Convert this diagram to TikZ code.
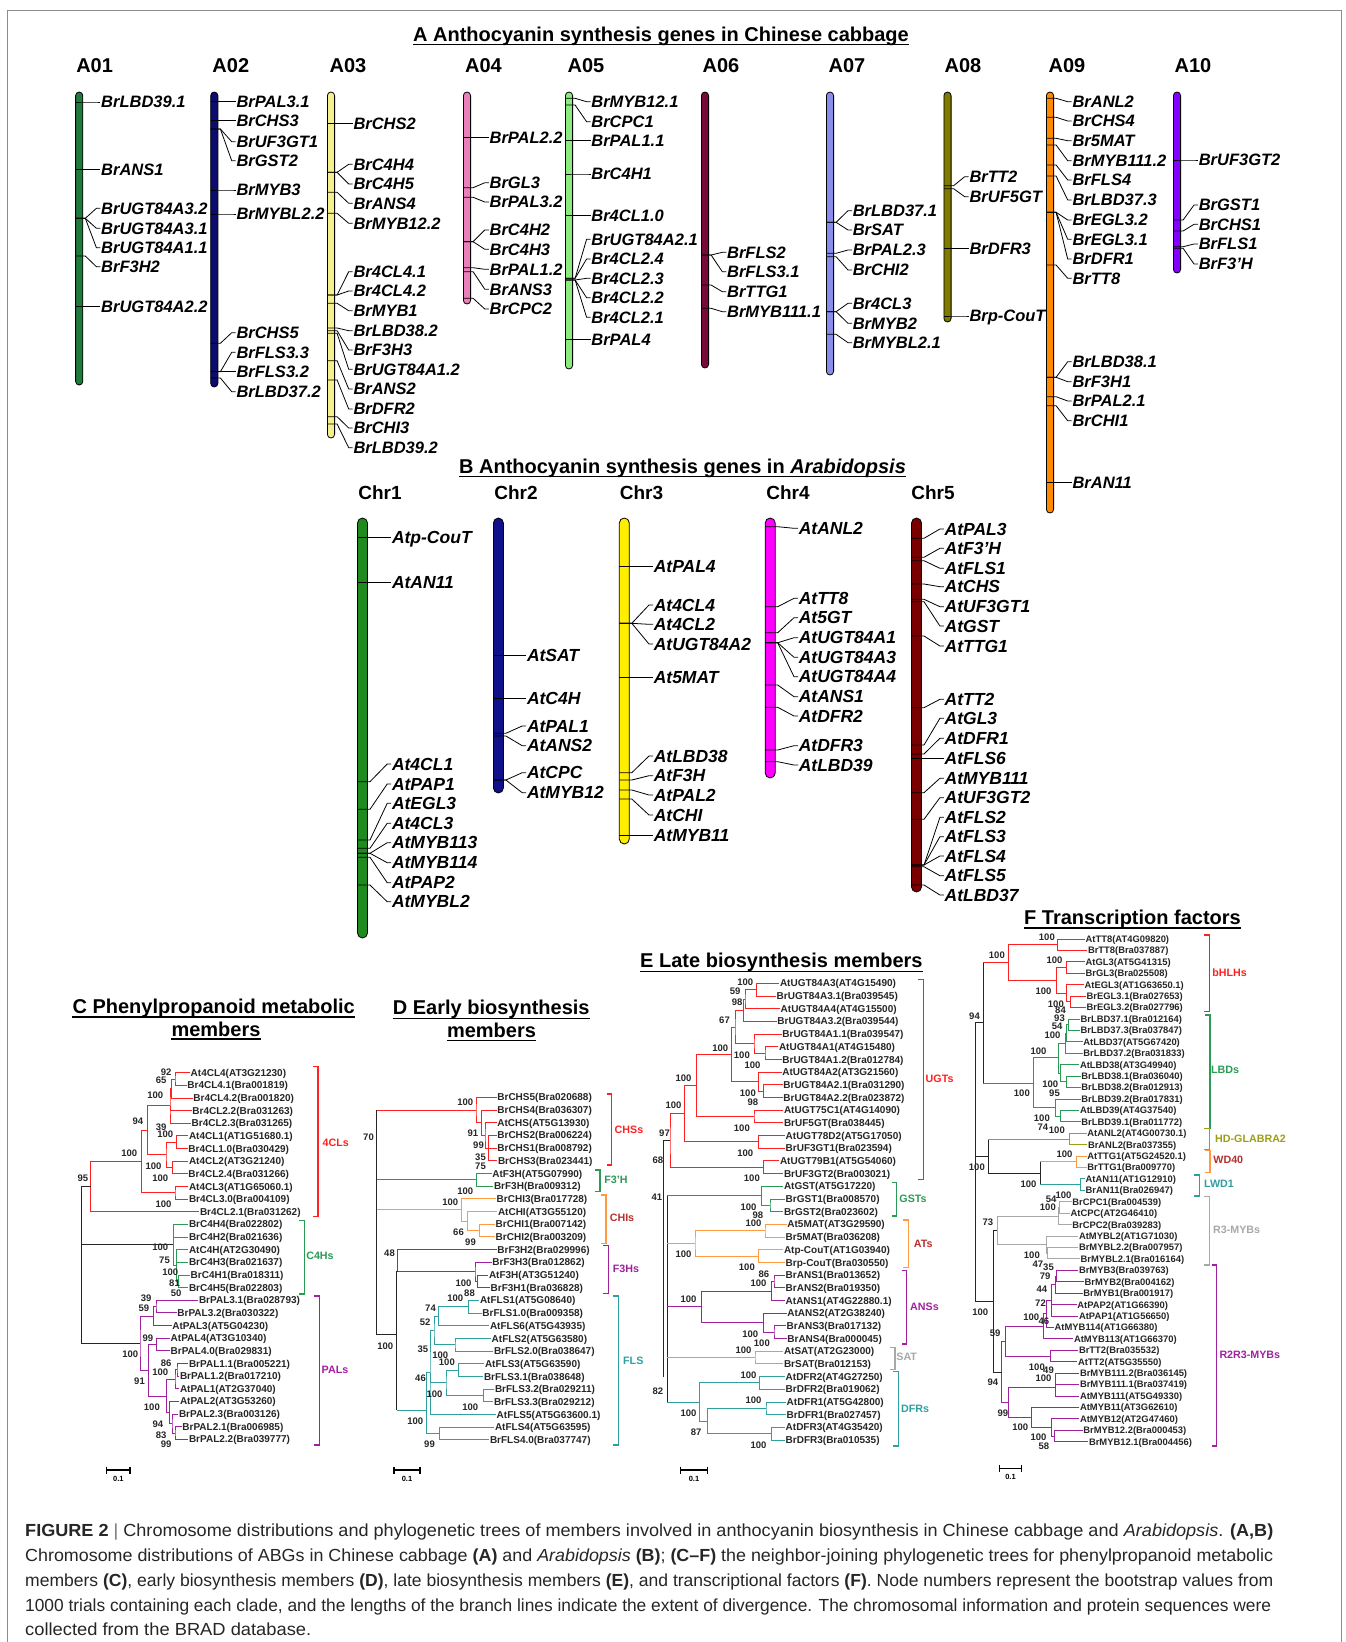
\documentclass[tikz,border=0pt]{standalone}
\usepackage{fontspec}
\setmainfont{Liberation Sans}
\usepackage{graphicx}
\definecolor{cA01}{HTML}{1E7B3C}\definecolor{cA02}{HTML}{0B0B70}\definecolor{cA03}{HTML}{F6F08C}
\definecolor{cA04}{HTML}{EC7FBA}\definecolor{cA05}{HTML}{8CEB7F}\definecolor{cA06}{HTML}{780A3A}
\definecolor{cA07}{HTML}{8A8CEB}\definecolor{cA08}{HTML}{7F7A00}\definecolor{cA09}{HTML}{FF8A00}
\definecolor{cA10}{HTML}{8400FF}
\definecolor{cB1}{HTML}{1F8B1F}\definecolor{cB2}{HTML}{10108A}\definecolor{cB3}{HTML}{FFEE00}
\definecolor{cB4}{HTML}{FF00FF}\definecolor{cB5}{HTML}{7A0000}
\definecolor{tred}{HTML}{FF2020}\definecolor{tgreen}{HTML}{2B9A55}\definecolor{tpurple}{HTML}{A0209F}
\definecolor{torange}{HTML}{FF9A40}\definecolor{tteal}{HTML}{2FA0A0}\definecolor{tgray}{HTML}{A8A8A8}
\definecolor{tolive}{HTML}{9E9E14}\definecolor{tdred}{HTML}{B5302F}
\newcounter{gn}
\newcommand\gx[3]{\stepcounter{gn}%
 \node[gene] (g\thegn) at (\chL,#2) {#3};%
 \draw[gl] (\chC-\hw,#1) -- (\chC+\hw+2.5,#1) -- ([xshift=-4pt]g\thegn.west) -- (g\thegn.west);}
\newcommand\chbar[5]{\draw[bar,fill=#1,rounded corners=#5pt] (#2-#5,#3) rectangle (#2+#5,#4);}
\newcommand\brk[4]{\draw[#1,line width=1.1pt] (#2-5,#3) -- (#2,#3) -- (#2,#4) -- (#2-5,#4);}
\newcommand\cY[1]{1072.7+12.64*(#1-1)}
\newcommand\dY[1]{1097.3+12.69*(#1-1)}
\newcommand\eY[1]{983.3+12.686*(#1-1)}
\newcommand\fY[1]{939+11.425*(#1-1)}
\tikzset{
 gl/.style={draw=black,line width=0.8pt},
 gA/.style={font=\fontsize{16.5}{18}\selectfont\bfseries\itshape,anchor=west,inner sep=0.6pt,text height=11.8pt,text depth=0pt},
 gB/.style={font=\fontsize{17.5}{19}\selectfont\bfseries\itshape,anchor=west,inner sep=0.6pt,text height=12.5pt,text depth=0pt},
 hdr/.style={font=\fontsize{20}{22}\selectfont\bfseries,anchor=base,inner sep=0pt},
 ttl/.style={font=\fontsize{20}{22}\selectfont\bfseries,anchor=base,inner sep=0pt},
 lf/.style={font=\fontsize{10}{11}\selectfont\bfseries,anchor=west,inner sep=0.5pt,text height=7.2pt,text depth=0pt,text=black!85},
 lff/.style={font=\fontsize{9.4}{10}\selectfont\bfseries,anchor=west,inner sep=0.5pt,text height=6.8pt,text depth=0pt,text=black!85},
 bs/.style={font=\fontsize{9.5}{10}\selectfont\bfseries,anchor=east,inner sep=0pt,text height=6.8pt,text depth=0pt,text=black!85},
 cl/.style={font=\fontsize{10.7}{12}\selectfont\bfseries,inner sep=0pt,text height=7.7pt,text depth=0pt},
 tK/.style={draw=black!85,line width=0.9pt},
 tR/.style={draw=tred,line width=0.9pt},
 tG/.style={draw=tgreen,line width=0.9pt},
 tP/.style={draw=tpurple,line width=0.9pt},
 tO/.style={draw=torange,line width=0.9pt},
 tT/.style={draw=tteal,line width=0.9pt},
 tS/.style={draw=tgray,line width=0.9pt},
 tY/.style={draw=tolive,line width=0.9pt},
 bar/.style={draw=black,line width=0.8pt},
 sbar/.style={draw=black,line width=1.1pt},
 capt/.style={font=\fontsize{17.5}{19}\selectfont,anchor=base west,inner sep=0pt,text=black!85},
}
\begin{document}
\begin{tikzpicture}[x=1pt,y=-1pt]
\useasboundingbox (0,0) rectangle (1346,1642);
\fill[white] (0,0) rectangle (1346,1642);
\draw[black!45,line width=1pt] (7,1660) -- (7,10) -- (1341,10) -- (1341,1660);
% ---------------- Titles
\node[ttl] (tA) at (661,41.5) {A Anthocyanin synthesis genes in Chinese cabbage};
\draw[line width=1.3pt] ([yshift=-3pt]tA.base west) -- ([yshift=-3pt]tA.base east);
\node[ttl] (tB) at (682.5,473) {B Anthocyanin synthesis genes in \textit{Arabidopsis}};
\draw[line width=1.3pt] ([yshift=-3.5pt]tB.base west) -- ([yshift=-3.5pt]tB.base east);
\node[ttl] (tC1) at (213.7,1013) {C Phenylpropanoid metabolic};
\draw[line width=1.3pt] ([yshift=-4pt]tC1.base west) -- ([yshift=-4pt]tC1.base east);
\node[ttl] (tC2) at (216,1036) {members};
\draw[line width=1.3pt] ([yshift=-3pt]tC2.base west) -- ([yshift=-3pt]tC2.base east);
\node[ttl] (tD1) at (491.2,1014.5) {D Early biosynthesis};
\draw[line width=1.3pt] ([yshift=-4pt]tD1.base west) -- ([yshift=-4pt]tD1.base east);
\node[ttl] (tD2) at (491.5,1037.5) {members};
\draw[line width=1.3pt] ([yshift=-3pt]tD2.base west) -- ([yshift=-3pt]tD2.base east);
\node[ttl] (tE) at (781.4,967.5) {E Late biosynthesis members};
\draw[line width=1.3pt] ([yshift=-4pt]tE.base west) -- ([yshift=-4pt]tE.base east);
\node[ttl] (tF) at (1132.5,924) {F Transcription factors};
\draw[line width=1.3pt] ([yshift=-4pt]tF.base west) -- ([yshift=-4pt]tF.base east);
% ---------------- Section A headers
\foreach \x/\t in {94.6/A01,230.8/A02,348/A03,483.5/A04,586/A05,721/A06,847/A07,963/A08,1067/A09,1193/A10}
  \node[hdr] (h\t) at (\x,72.7) {\t};
\foreach \x/\t in {380/Chr1,516/Chr2,641.5/Chr3,788/Chr4,933/Chr5}
  \node[hdr,font=\fontsize{19}{21}\selectfont\bfseries] (h\t) at (\x,499.5) {\t};
% ---------------- Section A bars
\chbar{cA01}{79.2}{92}{385}{3.6}
\chbar{cA02}{214.3}{92}{387}{3.6}
\chbar{cA03}{331}{92}{438}{3.6}
\chbar{cA04}{467}{92}{304}{3.6}
\chbar{cA05}{569}{92}{369}{3.6}
\chbar{cA06}{705}{92}{368}{3.6}
\chbar{cA07}{830}{92}{375}{3.6}
\chbar{cA08}{947.5}{92}{322}{3.6}
\chbar{cA09}{1050}{92}{513}{3.6}
\chbar{cA10}{1177}{92}{273}{3.6}
\tikzset{gene/.style={gA}}
\def\hw{3.6}
\def\chC{79.2}\def\chL{100.4}
\gx{102}{102}{BrLBD39.1}
\gx{169.3}{169.3}{BrANS1}
\gx{218.3}{208.3}{BrUGT84A3.2}
\gx{218.3}{228.3}{BrUGT84A3.1}
\gx{218.3}{247.7}{BrUGT84A1.1}
\gx{256}{266.7}{BrF3H2}
\gx{306.7}{306.7}{BrUGT84A2.2}
\def\chC{214.3}\def\chL{235.7}
\gx{101.7}{101.7}{BrPAL3.1}
\gx{120.7}{120.7}{BrCHS3}
\gx{129}{141.7}{BrUF3GT1}
\gx{129}{160.7}{BrGST2}
\gx{190}{190}{BrMYB3}
\gx{214}{214}{BrMYBL2.2}
\gx{343.3}{332.7}{BrCHS5}
\gx{371.7}{352.3}{BrFLS3.3}
\gx{371.7}{371.7}{BrFLS3.2}
\gx{378}{391.7}{BrLBD37.2}
\def\chC{331}\def\chL{352.7}
\gx{123.3}{123.3}{BrCHS2}
\gx{172.3}{164.3}{BrC4H4}
\gx{172.3}{184}{BrC4H5}
\gx{192.3}{203.3}{BrANS4}
\gx{213.3}{223.3}{BrMYB12.2}
\gx{295}{271.7}{Br4CL4.1}
\gx{295}{291}{Br4CL4.2}
\gx{303.3}{310.7}{BrMYB1}
\gx{328}{330.7}{BrLBD38.2}
\gx{330.7}{350}{BrF3H3}
\gx{333.3}{369.3}{BrUGT84A1.2}
\gx{360.7}{389}{BrANS2}
\gx{380}{409}{BrDFR2}
\gx{416.7}{428}{BrCHI3}
\gx{424}{447.7}{BrLBD39.2}
\def\chC{467}\def\chL{488.8}
\gx{137.3}{137.3}{BrPAL2.2}
\gx{187.7}{182.7}{BrGL3}
\gx{197.3}{202}{BrPAL3.2}
\gx{241.7}{230}{BrC4H2}
\gx{241.7}{249.3}{BrC4H3}
\gx{267.7}{269.3}{BrPAL1.2}
\gx{271.7}{289.3}{BrANS3}
\gx{298.3}{309}{BrCPC2}
\def\chC{569}\def\chL{590.6}
\gx{98.3}{101.7}{BrMYB12.1}
\gx{105}{121.7}{BrCPC1}
\gx{140.7}{140.7}{BrPAL1.1}
\gx{174}{174}{BrC4H1}
\gx{215.7}{215.7}{Br4CL1.0}
\gx{278.3}{239.3}{BrUGT84A2.1}
\gx{278.3}{259}{Br4CL2.4}
\gx{280}{278.3}{Br4CL2.3}
\gx{280}{297.7}{Br4CL2.2}
\gx{280}{317.3}{Br4CL2.1}
\gx{339.3}{339.3}{BrPAL4}
\def\chC{705}\def\chL{726.3}
\gx{255}{252.3}{BrFLS2}
\gx{255}{271.7}{BrFLS3.1}
\gx{285}{291.7}{BrTTG1}
\gx{308.3}{311.7}{BrMYB111.1}
\def\chC{830}\def\chL{852}
\gx{222.3}{210.7}{BrLBD37.1}
\gx{222.3}{230}{BrSAT}
\gx{253.3}{250}{BrPAL2.3}
\gx{256.7}{270}{BrCHI2}
\gx{311.7}{303.3}{Br4CL3}
\gx{311.7}{323.3}{BrMYB2}
\gx{334.3}{342.7}{BrMYBL2.1}
\def\chC{947.5}\def\chL{968.7}
\gx{185.7}{176.7}{BrTT2}
\gx{188.7}{196.7}{BrUF5GT}
\gx{248.3}{248.3}{BrDFR3}
\gx{316}{316}{Brp-CouT}
\def\chC{1050}\def\chL{1071.7}
\gx{98.3}{101.7}{BrANL2}
\gx{117.3}{121}{BrCHS4}
\gx{138.3}{140.7}{Br5MAT}
\gx{145}{160.7}{BrMYB111.2}
\gx{165}{180}{BrFLS4}
\gx{176}{200}{BrLBD37.3}
\gx{212.3}{220}{BrEGL3.2}
\gx{212.3}{239.3}{BrEGL3.1}
\gx{212.3}{259}{BrDFR1}
\gx{265}{278.3}{BrTT8}
\gx{377.3}{361.7}{BrLBD38.1}
\gx{377.3}{381.7}{BrF3H1}
\gx{396.7}{401}{BrPAL2.1}
\gx{405.7}{420.7}{BrCHI1}
\gx{482.3}{482.3}{BrAN11}
\def\chC{1177}\def\chL{1198}
\gx{160}{160}{BrUF3GT2}
\gx{220}{205}{BrGST1}
\gx{231}{224.3}{BrCHS1}
\gx{246.7}{244}{BrFLS1}
\gx{248.3}{264}{BrF3'H}
% ---------------- Section B
\chbar{cB1}{362.5}{518}{938}{5}
\chbar{cB2}{498.4}{518}{793}{5}
\chbar{cB3}{624.3}{518}{844}{5}
\chbar{cB4}{770.2}{518}{778}{5}
\chbar{cB5}{916.5}{518}{892}{5}
\tikzset{gene/.style={gB}}
\def\hw{5}
\def\chC{362.5}\def\chL{391.2}
\gx{537.3}{537.3}{Atp-CouT}
\gx{582.7}{582.7}{AtAN11}
\gx{781.7}{764}{At4CL1}
\gx{809.3}{784}{AtPAP1}
\gx{840}{803.3}{AtEGL3}
\gx{848.3}{823.3}{At4CL3}
\gx{853.3}{842.7}{AtMYB113}
\gx{853.3}{862.7}{AtMYB114}
\gx{857.3}{882.7}{AtPAP2}
\gx{885}{901.7}{AtMYBL2}
\def\chC{498.4}\def\chL{526.2}
\gx{655}{655}{AtSAT}
\gx{698.3}{698.3}{AtC4H}
\gx{733.3}{726}{AtPAL1}
\gx{736}{745.7}{AtANS2}
\gx{780}{772.7}{AtCPC}
\gx{780}{792.7}{AtMYB12}
\def\chC{624.3}\def\chL{653}
\gx{566.7}{566.7}{AtPAL4}
\gx{623.3}{605}{At4CL4}
\gx{623.3}{624.3}{At4CL2}
\gx{623.3}{644}{AtUGT84A2}
\gx{677.3}{677.3}{At5MAT}
\gx{772.7}{756}{AtLBD38}
\gx{780}{775.7}{AtF3H}
\gx{790}{795}{AtPAL2}
\gx{799}{815}{AtCHI}
\gx{835.7}{835.7}{AtMYB11}
\def\chC{770.2}\def\chL{798}
\gx{526.7}{528.3}{AtANL2}
\gx{606.7}{598.3}{AtTT8}
\gx{632.7}{617.7}{At5GT}
\gx{642.7}{637.7}{AtUGT84A1}
\gx{642.7}{657.3}{AtUGT84A3}
\gx{642.7}{676.7}{AtUGT84A4}
\gx{685}{696.7}{AtANS1}
\gx{707.3}{716}{AtDFR2}
\gx{750}{745.7}{AtDFR3}
\gx{761.7}{765}{AtLBD39}
\def\chC{916.5}\def\chL{943.9}
\gx{538.3}{529}{AtPAL3}
\gx{557.3}{548.3}{AtF3'H}
\gx{560.7}{568.3}{AtFLS1}
\gx{584}{586.7}{AtCHS}
\gx{599.3}{606.7}{AtUF3GT1}
\gx{601.7}{626}{AtGST}
\gx{636}{646}{AtTTG1}
\gx{707.7}{699.3}{AtTT2}
\gx{745}{718.3}{AtGL3}
\gx{754}{738.3}{AtDFR1}
\gx{758.3}{758.3}{AtFLS6}
\gx{792.7}{778.3}{AtMYB111}
\gx{819.3}{797.7}{AtUF3GT2}
\gx{865}{817.3}{AtFLS2}
\gx{865}{836.7}{AtFLS3}
\gx{865}{856}{AtFLS4}
\gx{866.7}{875.7}{AtFLS5}
\gx{885}{895}{AtLBD37}
% ================= Tree C
\foreach \i/\x/\t in {1/190/At4CL4(AT3G21230),2/186.7/Br4CL4.1(Bra001819),3/192.7/Br4CL4.2(Bra001820),
 4/191.7/Br4CL2.2(Bra031263),5/191/Br4CL2.3(Bra031265),6/188.3/At4CL1(AT1G51680.1),7/187.7/Br4CL1.0(Bra030429),
 8/188.3/At4CL2(AT3G21240),9/187.7/Br4CL2.4(Bra031266),10/188.3/At4CL3(AT1G65060.1),11/188.3/Br4CL3.0(Bra004109),
 12/199.3/Br4CL2.1(Bra031262),13/188.3/BrC4H4(Bra022802),14/188.3/BrC4H2(Bra021636),15/188.3/AtC4H(AT2G30490),
 16/188.3/BrC4H3(Bra021637),17/190/BrC4H1(Bra018311),18/188.3/BrC4H5(Bra022803),19/198.3/BrPAL3.1(Bra028793),
 20/176.7/BrPAL3.2(Bra030322),21/171.7/AtPAL3(AT5G04230),22/170/AtPAL4(AT3G10340),23/170/BrPAL4.0(Bra029831),
 24/188.3/BrPAL1.1(Bra005221),25/179.3/BrPAL1.2(Bra017210),26/179.3/AtPAL1(AT2G37040),27/179.3/AtPAL2(AT3G53260),
 28/178.3/BrPAL2.3(Bra003126),29/181.7/BrPAL2.1(Bra006985),30/188.3/BrPAL2.2(Bra039777)}
 \node[lf] (C\i) at (\x,{\cY{\i}}) {\t};
\coordinate (cN1) at (175,{\cY{1.5}});
\coordinate (cN2) at (171.7,{\cY{2.25}});
\coordinate (cN3) at (170,{\cY{3.6}});
\coordinate (cN4) at (176.7,{\cY{6.5}});
\coordinate (cN6) at (172.7,{\cY{8.5}});
\coordinate (cN5) at (166,{\cY{7.5}});
\coordinate (cN7) at (147.3,{\cY{5.55}});
\coordinate (cN8) at (175,{\cY{10.5}});
\coordinate (cN9) at (141.7,{\cY{8}});
\coordinate (cN10) at (90.7,{\cY{10}});
\draw[tR] (C1.west) -| (cN1) |- (C2.west);
\draw[tR] (cN1) -| (cN2) |- (C3.west);
\draw[tR] (cN2) -| (cN3) |- (C5.west); \draw[tR] (cN3) |- (C4.west);
\draw[tR] (C6.west) -| (cN4) |- (C7.west);
\draw[tR] (C8.west) -| (cN6) |- (C9.west);
\draw[tR] (cN4) -| (cN5) |- (cN6);
\draw[tR] (cN3) -| (cN7) |- (cN5);
\draw[tR] (C10.west) -| (cN8) |- (C11.west);
\draw[tR] (cN7) -| (cN9) |- (cN8);
\draw[tR] (cN9) -| (cN10) |- (C12.west);
\coordinate (cG3) at (178.3,{\cY{17.5}});
\coordinate (cG2) at (176.7,{\cY{16.25}});
\coordinate (cG1) at (173.3,{\cY{14.6}});
\draw[tG] (C17.west) -| (cG3) |- (C18.west);
\draw[tG] (C15.west) -| (cG2) |- (cG3); \draw[tG] (cG2) |- (C16.west);
\draw[tG] (C13.west) -| (cG1) |- (cG2); \draw[tG] (cG1) |- (C14.west);
\coordinate (cP1a) at (156,{\cY{19.5}});
\coordinate (cP1) at (153.3,{\cY{20.25}});
\coordinate (cP3) at (156.7,{\cY{22.5}});
\coordinate (cP5a) at (177,{\cY{24.5}});
\coordinate (cP5) at (175,{\cY{25.25}});
\coordinate (cP6a) at (175,{\cY{29.5}});
\coordinate (cP6b) at (172,{\cY{28.75}});
\coordinate (cP6) at (169.3,{\cY{27.9}});
\coordinate (cP4) at (166.7,{\cY{26.6}});
\coordinate (cP2) at (148.3,{\cY{24.55}});
\coordinate (cP0) at (140,{\cY{22.4}});
\draw[tP] (C19.west) -| (cP1a) |- (C20.west);
\draw[tP] (cP1a) -| (cP1) |- (C21.west);
\draw[tP] (C22.west) -| (cP3) |- (C23.west);
\draw[tP] (C24.west) -| (cP5a) |- (C25.west);
\draw[tP] (cP5a) -| (cP5) |- (C26.west);
\draw[tP] (C29.west) -| (cP6a) |- (C30.west);
\draw[tP] (C28.west) -| (cP6b) |- (cP6a);
\draw[tP] (C27.west) -| (cP6) |- (cP6b);
\draw[tP] (cP5) -| (cP4) |- (cP6);
\draw[tP] (cP3) -| (cP2) |- (cP4);
\draw[tP] (cP1) -| (cP0) |- (cP2);
\coordinate (cR) at (81.7,{\cY{16}});
\draw[tK] (cN10) -| (cR) |- (cP0); \draw[tK] (cR) |- (cG1);
\foreach \x/\y/\t [count=\n] in {171.7/1072/92,166.7/1080.3/65,163.3/1095/100,143.3/1121/94,166.7/1126.7/39,173.3/1134/100,
 137.3/1152.7/100,161.7/1166/100,168.3/1178.3/100,88.3/1178.3/95,171.7/1204/100,168.3/1247.3/100,170/1260/75,
 178.3/1272.3/100,180/1283.3/81,181.7/1292.7/50,151.7/1298.3/39,149.3/1308.3/59,153.3/1337.7/99,138.3/1354/100,
 171.7/1362.7/86,168.3/1372.3/100,145/1381/91,160/1407/100,163.3/1424.3/94,166.7/1435/83,171.7/1444/99}
 \node[bs] (bC\n) at (\x,\y) {\t};
\brk{draw=tred}{318}{1066.7}{1216.7}
\node[cl,text=tred] (kC1) at (335.7,1142.3) {4CLs};
\brk{draw=tgreen}{304.3}{1220.7}{1294}
\node[cl,text=tgreen] (kC2) at (320,1255.7) {C4Hs};
\brk{draw=tpurple}{319.3}{1296}{1445}
\node[cl,text=tpurple] (kC3) at (335,1369.3) {PALs};
% ================= Tree D
\foreach \i/\x/\t in {1/496.7/BrCHS5(Bra020688),2/496.7/BrCHS4(Bra036307),3/496.7/AtCHS(AT5G13930),
 4/496.7/BrCHS2(Bra006224),5/496.7/BrCHS1(Bra008792),6/497.3/BrCHS3(Bra023441),7/491.7/AtF3H(AT5G07990),
 8/493.3/BrF3H(Bra009312),9/496/BrCHI3(Bra017728),10/497.3/AtCHI(AT3G55120),11/495/BrCHI1(Bra007142),
 12/495/BrCHI2(Bra003209),13/496.7/BrF3H2(Bra029996),14/491.7/BrF3H3(Bra012862),15/488.3/AtF3H(AT3G51240),
 16/490/BrF3H1(Bra036828),17/479.3/AtFLS1(AT5G08640),18/481.7/BrFLS1.0(Bra009358),19/489.3/AtFLS6(AT5G43935),
 20/491/AtFLS2(AT5G63580),21/493.3/BrFLS2.0(Bra038647),22/484.3/AtFLS3(AT5G63590),23/483.3/BrFLS3.1(Bra038648),
 24/494.3/BrFLS3.2(Bra029211),25/493.3/BrFLS3.3(Bra029212),26/496/AtFLS5(AT5G63600.1),27/494.3/AtFLS4(AT5G63595),
 28/489.3/BrFLS4.0(Bra037747)}
 \node[lf] (D\i) at (\x,{\dY{\i}}) {\t};
\coordinate (dC4) at (488.3,{\dY{5}});
\coordinate (dC3) at (485,{\dY{4}});
\coordinate (dC2) at (481.7,{\dY{3}});
\coordinate (dC1) at (476,{\dY{2}});
\draw[tR] (D4.west) -| (dC4) |- (D6.west); \draw[tR] (dC4) -- (D5.west);
\draw[tR] (D3.west) -| (dC3) |- (dC4);
\draw[tR] (D2.west) -| (dC2) |- (dC3);
\draw[tR] (D1.west) -| (dC1) |- (dC2);
\coordinate (dG) at (476.7,{\dY{7.5}});
\draw[tG] (D7.west) -| (dG) |- (D8.west);
\coordinate (dH3) at (479.3,{\dY{11.5}});
\coordinate (dH2) at (467.3,{\dY{10.75}});
\coordinate (dH1) at (461.7,{\dY{9.875}});
\draw[tO] (D11.west) -| (dH3) |- (D12.west);
\draw[tO] (D10.west) -| (dH2) |- (dH3);
\draw[tO] (D9.west) -| (dH1) |- (dH2);
\coordinate (dF3) at (477.3,{\dY{15.5}});
\coordinate (dF2) at (475,{\dY{14.75}});
\coordinate (dF1) at (397.3,{\dY{14.75}});
\draw[tP] (D15.west) -| (dF3) |- (D16.west);
\draw[tP] (D14.west) -| (dF2) |- (dF3);
\draw[tP] (D13.west) -| (dF1) -- (dF2);
\coordinate (dT1) at (468.3,{\dY{17.5}});
\coordinate (dT2) at (438.3,{\dY{18.25}});
\coordinate (dT3) at (455,{\dY{20.5}});
\coordinate (dT4) at (434,{\dY{19.375}});
\coordinate (dT5) at (458.3,{\dY{22.5}});
\coordinate (dT6) at (483.3,{\dY{24.5}});
\coordinate (dT7) at (446,{\dY{23.5}});
\coordinate (dT8) at (430,{\dY{22.7}});
\coordinate (dT9) at (439.3,{\dY{27.5}});
\coordinate (dT10) at (426.7,{\dY{25.64}});
\draw[tT] (D17.west) -| (dT1) |- (D18.west);
\draw[tT] (dT1) -| (dT2) |- (D19.west);
\draw[tT] (D20.west) -| (dT3) |- (D21.west);
\draw[tT] (dT2) -| (dT4) |- (dT3);
\draw[tT] (D22.west) -| (dT5) |- (D23.west);
\draw[tT] (D24.west) -| (dT6) |- (D25.west);
\draw[tT] (dT5) -| (dT7) |- (dT6);
\draw[tT] (dT4) -| (dT8) |- (D26.west); \draw[tT] (dT8) |- (dT7);
\draw[tT] (D27.west) -| (dT9) |- (D28.west);
\draw[tT] (dT8) -| (dT10) |- (dT9);
\coordinate (dR2) at (396.7,{\dY{19.7}});
\coordinate (dR) at (376.7,{\dY{11}});
\draw[tK] (dF1) -- (dR2 |- dF1) -- (dR2 |- dT10);
\draw[tT] (dR2 |- dT10) -- (dT10);
\draw[tK] (dR |- dC1) -- (dR |- dR2) -- (dR2);
\draw[tR] (dR |- dC1) -- (dC1);
\draw[tG] (dR |- dG) -- (dG);
\draw[tO] (dR |- dH1) -- (dH1);
\foreach \x/\y/\t [count=\n] in {374/1137.3/70,473.3/1102.3/100,478.3/1132.7/91,484/1145/99,486/1156.7/35,486/1166/75,
 473.3/1191/100,458.3/1201.7/100,464/1232.3/66,476/1242.3/99,395/1252.7/48,471.7/1283.3/100,475/1292.7/88,
 463.3/1298.3/100,436/1308.3/74,430.7/1322.3/52,428.3/1349.3/35,448.3/1355.5/100,455/1362/100,426/1377.7/46,
 442.7/1394/100,478.3/1406.7/100,423.3/1420.7/100,435/1444.3/99,393.3/1346/100}
 \node[bs] (bD\n) at (\x,\y) {\t};
\brk{draw=tred}{611.7}{1094}{1165}
\node[cl,text=tred] (kD1) at (629,1129.3) {CHSs};
\brk{draw=tgreen}{600}{1170}{1191.7}
\node[cl,text=tgreen] (kD2) at (616,1180) {F3'H};
\brk{draw=torange}{606}{1195}{1243.3}
\node[cl,text=tdred] (kD3) at (622,1217.3) {CHIs};
\brk{draw=tpurple}{608.3}{1245.7}{1293.3}
\node[cl,text=tpurple] (kD4) at (626,1268.3) {F3Hs};
\brk{draw=tteal}{618.3}{1296}{1445}
\begin{scope}
\clip (600,1300) rectangle (643,1420);
\node[cl,text=tteal,anchor=west] (kD5) at (623,1361) {FLSs};
\end{scope}
% ================= Tree E
\foreach \i/\x/\t in {1/779.3/AtUGT84A3(AT4G15490),2/776/BrUGT84A3.1(Bra039545),3/780/AtUGT84A4(AT4G15500),
 4/776.7/BrUGT84A3.2(Bra039544),5/781.7/BrUGT84A1.1(Bra039547),6/778.3/AtUGT84A1(AT4G15480),
 7/781.7/BrUGT84A1.2(Bra012784),8/781.7/AtUGT84A2(AT3G21560),9/782.7/BrUGT84A2.1(Bra031290),
 10/782.7/BrUGT84A2.2(Bra023872),11/783.3/AtUGT75C1(AT4G14090),12/783.3/BrUF5GT(Bra038445),
 13/785/AtUGT78D2(AT5G17050),14/785/BrUF3GT1(Bra023594),15/779.3/AtUGT79B1(AT5G54060),
 16/783.3/BrUF3GT2(Bra003021),17/783.3/AtGST(AT5G17220),18/785/BrGST1(Bra008570),19/783.3/BrGST2(Bra023602),
 20/786.7/At5MAT(AT3G29590),21/785/Br5MAT(Bra036208),22/783.3/Atp-CouT(AT1G03940),23/785/Brp-CouT(Bra030550),
 24/785/BrANS1(Bra013652),25/785/BrANS2(Bra019350),26/785/AtANS1(AT4G22880.1),27/786.7/AtANS2(AT2G38240),
 28/786/BrANS3(Bra017132),29/786.7/BrANS4(Bra000045),30/783.3/AtSAT(AT2G23000),31/783.3/BrSAT(Bra012153),
 32/785/AtDFR2(AT4G27250),33/785/BrDFR2(Bra019062),34/786/AtDFR1(AT5G42800),35/786/BrDFR1(Bra027457),
 36/785/AtDFR3(AT4G35420),37/785/BrDFR3(Bra010535)}
 \node[lf] (E\i) at (\x,{\eY{\i}}) {\t};
\coordinate (eU1) at (756.7,{\eY{1.5}});
\coordinate (eU2) at (745,{\eY{2.25}});
\coordinate (eU3) at (743.3,{\eY{3.125}});
\coordinate (eU5) at (765,{\eY{6.5}});
\coordinate (eU4) at (754,{\eY{5.75}});
\coordinate (eU8) at (735,{\eY{4.44}});
\coordinate (eU7) at (763.3,{\eY{9.5}});
\coordinate (eU6) at (758.3,{\eY{8.75}});
\coordinate (eU9) at (731.7,{\eY{6.6}});
\coordinate (eU10) at (754,{\eY{11.5}});
\coordinate (eU11) at (696.7,{\eY{9.05}});
\coordinate (eU12) at (758.3,{\eY{13.5}});
\coordinate (eU13) at (684.3,{\eY{11.27}});
\coordinate (eU14) at (763.3,{\eY{15.5}});
\coordinate (eU15) at (670,{\eY{13.4}});
\draw[tR] (E1.west) -| (eU1) |- (E2.west);
\draw[tR] (eU1) -| (eU2) |- (E3.west);
\draw[tR] (eU2) -| (eU3) |- (E4.west);
\draw[tR] (E6.west) -| (eU5) |- (E7.west);
\draw[tR] (E5.west) -| (eU4) |- (eU5);
\draw[tR] (eU3) -| (eU8) |- (eU4);
\draw[tR] (E9.west) -| (eU7) |- (E10.west);
\draw[tR] (E8.west) -| (eU6) |- (eU7);
\draw[tR] (eU8) -| (eU9) |- (eU6);
\draw[tR] (E11.west) -| (eU10) |- (E12.west);
\draw[tR] (eU9) -| (eU11) |- (eU10);
\draw[tR] (E13.west) -| (eU12) |- (E14.west);
\draw[tR] (eU11) -| (eU13) |- (eU12);
\draw[tR] (E15.west) -| (eU14) |- (E16.west);
\draw[tR] (eU13) -| (eU15) |- (eU14);
\coordinate (eG2) at (770,{\eY{18.5}});
\coordinate (eG1) at (761.7,{\eY{17.75}});
\draw[tG] (E18.west) -| (eG2) |- (E19.west);
\draw[tG] (E17.west) -| (eG1) |- (eG2);
\coordinate (eAa) at (765,{\eY{20.5}});
\coordinate (eAb) at (758.3,{\eY{22.5}});
\coordinate (eAT) at (695,{\eY{21.5}});
\draw[tO] (E20.west) -| (eAa) |- (E21.west);
\draw[tO] (E22.west) -| (eAb) |- (E23.west);
\draw[tO] (eAa) -| (eAT) |- (eAb);
\coordinate (eA1) at (774,{\eY{24.5}});
\coordinate (eA2) at (771.7,{\eY{25.25}});
\coordinate (eA3) at (774,{\eY{28.5}});
\coordinate (eA4) at (763.3,{\eY{27.75}});
\coordinate (eA5) at (701.7,{\eY{26.5}});
\draw[tP] (E24.west) -| (eA1) |- (E25.west);
\draw[tP] (eA1) -| (eA2) |- (E26.west);
\draw[tP] (E28.west) -| (eA3) |- (E29.west);
\draw[tP] (E27.west) -| (eA4) |- (eA3);
\draw[tP] (eA2) -| (eA5) |- (eA4);
\coordinate (eS) at (755,{\eY{30.5}});
\draw[tS] (E30.west) -| (eS) |- (E31.west);
\coordinate (eD1) at (759.3,{\eY{32.5}});
\coordinate (eD3) at (766,{\eY{34.5}});
\coordinate (eD4) at (771.7,{\eY{36.5}});
\coordinate (eD2) at (707.3,{\eY{35.5}});
\coordinate (eD0) at (699.3,{\eY{34}});
\draw[tT] (E32.west) -| (eD1) |- (E33.west);
\draw[tT] (E34.west) -| (eD3) |- (E35.west);
\draw[tT] (E36.west) -| (eD4) |- (E37.west);
\draw[tT] (eD3) -| (eD2) |- (eD4);
\draw[tT] (eD1) -| (eD0) |- (eD2);
\coordinate (eRa) at (667,1300);
\coordinate (eRb) at (663.5,1300);
\draw[tK] (eU15) -- (eRb |- eU15) -- (663.5,{\eY{32}});
\draw[tK] (eRa |- eG1) -- (eRa |- eD0);
\draw[tG] (eRa |- eG1) -- (eG1);
\draw[tO] (eRa |- eAT) -- (eAT);
\draw[tP] (eRa |- eA5) -- (eA5);
\draw[tS] (eRa |- eS) -- (eS);
\draw[tT] (eRa |- eD0) -- (eD0);
\foreach \x/\y/\t [count=\n] in {753.3/982/100,740.7/990.7/59,742.7/1002.3/98,730/1020/67,728.3/1047.7/100,750/1055/100,
 760.7/1064.7/100,691.7/1077.7/100,756/1092.7/100,758.3/1102/98,681.7/1105.3/100,750/1128.3/100,670/1132.7/97,
 753.3/1153.3/100,663.3/1160/68,760/1178.3/100,662.3/1197.3/41,756.7/1206.7/100,763.3/1215/98,761.7/1222.7/100,
 691.7/1254/100,755/1267.3/100,769.3/1274.3/86,766.7/1283.3/100,696.7/1299/100,758.3/1334/100,770/1343.3/100,
 751.7/1350/100,756.7/1375/100,761.7/1400/100,696.7/1413.3/100,701.7/1432.3/87,766.7/1445/100,663.3/1390.7/82}
 \node[bs] (bE\n) at (\x,\y) {\t};
\brk{draw=tred}{923.3}{979.3}{1179.3}
\node[cl,text=tred] (kE1) at (939.6,1079) {UGTs};
\brk{draw=tgreen}{896.7}{1182.7}{1216}
\node[cl,text=tgreen] (kE2) at (913,1198.3) {GSTs};
\brk{draw=torange}{908.3}{1220}{1267.3}
\node[cl,text=tdred] (kE3) at (923.3,1243.3) {ATs};
\brk{draw=tpurple}{906.7}{1270.7}{1344}
\node[cl,text=tpurple,anchor=west] (kE4) at (910,1306.7) {ANSs};
\brk{draw=tgray}{895}{1347.3}{1369.3}
\node[cl,text=tgray] (kE5) at (906.7,1356.7) {SAT};
\brk{draw=tteal}{898.3}{1371.7}{1446}
\node[cl,text=tteal] (kE6) at (915,1408.3) {DFRs};
% ================= Tree F
\foreach \i/\x/\t in {1/1085/AtTT8(AT4G09820),2/1087.3/BrTT8(Bra037887),3/1085/AtGL3(AT5G41315),4/1085/BrGL3(Bra025508),
 5/1084/AtEGL3(AT1G63650.1),6/1086/BrEGL3.1(Bra027653),7/1086/BrEGL3.2(Bra027796),8/1080/BrLBD37.1(Bra012164),
 9/1080/BrLBD37.3(Bra037847),10/1082.7/AtLBD37(AT5G67420),11/1082.7/BrLBD37.2(Bra031833),12/1079.3/AtLBD38(AT3G49940),
 13/1080.7/BrLBD38.1(Bra036040),14/1080.7/BrLBD38.2(Bra012913),15/1080.7/BrLBD39.2(Bra017831),16/1079.3/AtLBD39(AT4G37540),
 17/1080.7/BrLBD39.1(Bra011772),18/1086.7/AtANL2(AT4G00730.1),19/1087.3/BrANL2(Bra037355),20/1086.7/AtTTG1(AT5G24520.1),
 21/1086.7/BrTTG1(Bra009770),22/1085/AtAN11(AT1G12910),23/1085/BrAN11(Bra026947),24/1071.7/BrCPC1(Bra004539),
 25/1070/AtCPC(AT2G46410),26/1071.7/BrCPC2(Bra039283),27/1078.3/AtMYBL2(AT1G71030),28/1078.3/BrMYBL2.2(Bra007957),
 29/1080/BrMYBL2.1(Bra016164),30/1078.3/BrMYB3(Bra039763),31/1084/BrMYB2(Bra004162),32/1082.7/BrMYB1(Bra001917),
 33/1076.7/AtPAP2(AT1G66390),34/1078.3/AtPAP1(AT1G56650),35/1054/AtMYB114(AT1G66380),36/1073.3/AtMYB113(AT1G66370),
 37/1078.3/BrTT2(Bra035532),38/1077.3/AtTT2(AT5G35550),39/1079.3/BrMYB111.2(Bra036145),40/1079.3/BrMYB111.1(Bra037419),
 41/1079.3/AtMYB111(AT5G49330),42/1079.3/AtMYB11(AT3G62610),43/1079.3/AtMYB12(AT2G47460),44/1082.7/BrMYB12.2(Bra000453),
 45/1088.3/BrMYB12.1(Bra004456)}
 \node[lff] (F\i) at (\x,{\fY{\i}}) {\t};
\coordinate (fB1) at (1057.3,{\fY{1.5}});
\coordinate (fB2) at (1066,{\fY{3.5}});
\coordinate (fB3a) at (1070,{\fY{6.5}});
\coordinate (fB3) at (1066.7,{\fY{5.75}});
\coordinate (fB4) at (1056.7,{\fY{4.625}});
\coordinate (fB5) at (1008.3,{\fY{3.06}});
\draw[tR] (F1.west) -| (fB1) |- (F2.west);
\draw[tR] (F3.west) -| (fB2) |- (F4.west);
\draw[tR] (F6.west) -| (fB3a) |- (F7.west);
\draw[tR] (F5.west) -| (fB3) |- (fB3a);
\draw[tR] (fB2) -| (fB4) |- (fB3);
\draw[tR] (fB1) -| (fB5) |- (fB4);
\coordinate (fLa) at (1068.3,{\fY{8.5}});
\coordinate (fLb) at (1066.7,{\fY{9.25}});
\coordinate (fLc) at (1065,{\fY{10.1}});
\coordinate (fLd) at (1066.7,{\fY{13.5}});
\coordinate (fLe) at (1060.7,{\fY{12.75}});
\coordinate (fLf) at (1058.3,{\fY{11.4}});
\coordinate (fLg) at (1060,{\fY{16.5}});
\coordinate (fLh) at (1055,{\fY{15.75}});
\coordinate (fLi) at (1033.3,{\fY{13.6}});
\draw[tG] (F8.west) -| (fLa) |- (F9.west);
\draw[tG] (fLa) -| (fLb) |- (F10.west);
\draw[tG] (fLb) -| (fLc) |- (F11.west);
\draw[tG] (F13.west) -| (fLd) |- (F14.west);
\draw[tG] (F12.west) -| (fLe) |- (fLd);
\draw[tG] (fLc) -| (fLf) |- (fLe);
\draw[tG] (F16.west) -| (fLg) |- (F17.west);
\draw[tG] (F15.west) -| (fLh) |- (fLg);
\draw[tG] (fLf) -| (fLi) |- (fLh);
\coordinate (fR1) at (983.3,{\fY{8.33}});
\draw[tK] (fR1 |- fB5) -- (fR1 |- fLi);
\draw[tR] (fR1 |- fB5) -- (fB5);
\draw[tG] (fR1 |- fLi) -- (fLi);
\coordinate (fHa) at (1069.3,{\fY{18.5}});
\coordinate (fWa) at (1076.7,{\fY{20.5}});
\coordinate (fWb) at (1080,{\fY{22.5}});
\coordinate (fW1) at (1040,{\fY{21.5}});
\coordinate (fR3) at (988.3,{\fY{20}});
\draw[tY] (F18.west) -| (fHa) |- (F19.west);
\draw[tO] (F20.west) -| (fWa) |- (F21.west);
\draw[tT] (F22.west) -| (fWb) |- (F23.west);
\draw[tK] (fW1 |- fWa) -- (fW1 |- fWb);
\draw[tO] (fW1 |- fWa) -- (fWa);
\draw[tT] (fW1 |- fWb) -- (fWb);
\draw[tK] (fR3 |- fHa) -- (fR3 |- fW1) -- (fW1);
\draw[tY] (fR3 |- fHa) -- (fHa);
\coordinate (fCa) at (1059.3,{\fY{24.5}});
\coordinate (fCb) at (1058.3,{\fY{25.25}});
\coordinate (fMa) at (1047.3,{\fY{28.5}});
\coordinate (fM1) at (1046,{\fY{27.75}});
\coordinate (fR3n) at (997.3,{\fY{26.5}});
\draw[tS] (F24.west) -| (fCa) |- (F25.west);
\draw[tS] (fCa) -| (fCb) |- (F26.west);
\draw[tS] (F28.west) -| (fMa) |- (F29.west);
\draw[tS] (F27.west) -| (fM1) |- (fMa);
\draw[tS] (fCb) -| (fR3n) |- (fM1);
\coordinate (fQ1a) at (1056,{\fY{30.5}});
\coordinate (fQ1) at (1055,{\fY{31.25}});
\coordinate (fQ2) at (1051.7,{\fY{32.6}});
\coordinate (fQ3) at (1046.7,{\fY{33.8}});
\coordinate (fQ4) at (1043.3,{\fY{34.9}});
\coordinate (fQt) at (1050,{\fY{37.5}});
\coordinate (fQ5) at (1005,{\fY{36.2}});
\coordinate (fQ6) at (1055.7,{\fY{39.5}});
\coordinate (fQ7) at (1055,{\fY{40.25}});
\coordinate (fQ9a) at (1054,{\fY{44.5}});
\coordinate (fQ9) at (1051.7,{\fY{43.75}});
\coordinate (fQ8) at (1031.7,{\fY{42.9}});
\coordinate (fQ10) at (1008.3,{\fY{41.6}});
\coordinate (fQ11) at (1001.7,{\fY{38.9}});
\draw[tP] (F30.west) -| (fQ1a) |- (F31.west);
\draw[tP] (fQ1a) -| (fQ1) |- (F32.west);
\draw[tP] (fQ1) -| (fQ2) |- (F34.west); \draw[tP] (fQ2) |- (F33.west);
\draw[tP] (fQ2) -| (fQ3) |- (F35.west);
\draw[tP] (fQ3) -| (fQ4) |- (F36.west);
\draw[tP] (F37.west) -| (fQt) |- (F38.west);
\draw[tP] (fQ4) -| (fQ5) |- (fQt);
\draw[tP] (F39.west) -| (fQ6) |- (F40.west);
\draw[tP] (fQ6) -| (fQ7) |- (F41.west);
\draw[tP] (F44.west) -| (fQ9a) |- (F45.west);
\draw[tP] (F43.west) -| (fQ9) |- (fQ9a);
\draw[tP] (F42.west) -| (fQ8) |- (fQ9);
\draw[tP] (fQ7) -| (fQ10) |- (fQ8);
\draw[tP] (fQ5) -| (fQ11) |- (fQ10);
\coordinate (fRm) at (993.3,{\fY{32.7}});
\coordinate (fR0) at (975,{\fY{20.5}});
\draw[tK] (fRm |- fR3n) -- (fRm |- fQ11);
\draw[tK] (fRm |- fR3n) -- (fR3n);
\draw[tK] (fRm |- fQ11) -- (fQ11);
\draw[tK] (fR0 |- fR1) -- (fR0 |- fRm);
\draw[tK] (fR0 |- fR1) -- (fR1);
\draw[tK] (fR0 |- fR3) -- (fR3);
\draw[tK] (fR0 |- fRm) -- (fRm);
\foreach \x/\y/\t [count=\n] in {1055/937.3/100,1005/955/100,1062.7/960/100,1051.7/990.7/100,1064/1004/100,980/1015.7/94,
 1066/1010.5/84,1065/1018/93,1062.7/1026.5/54,1060.7/1035/100,1046.7/1050.7/100,1058.3/1084/100,1060/1093.3/95,
 1030/1093.3/100,1050/1118.3/100,1048.3/1126.7/74,1065/1130/100,1072.7/1154/100,985/1166.7/100,1036.7/1184/100,
 1056.7/1199.3/54,1071.7/1195/100,1056/1207.3/100,993.3/1221.7/73,1040/1255/100,1043.3/1264/47,1054/1267.3/35,
 1050.7/1276/79,1047.3/1289/44,1046/1303.3/72,1039.3/1316.7/100,1049.3/1320.7/46,988.3/1311.7/100,1000.7/1332.7/59,
 1045/1366.7/100,1054/1370/49,1051.7/1378.3/100,998.3/1381.7/94,1008.3/1413.3/99,1028.3/1427.3/100,
 1046.7/1436.7/100,1049.3/1446/58}
 \node[bs] (bF\n) at (\x,\y) {\t};
\brk{draw=tred}{1209.3}{935}{1011.7}
\node[cl,text=tred] (kF1) at (1229.5,972.7) {bHLHs};
\brk{draw=tgreen}{1210}{1015}{1128.3}
\node[cl,text=tgreen] (kF2) at (1225,1070) {LBDs};
\brk{draw=tolive}{1209.3}{1128.3}{1149.3}
\node[cl,text=tolive,anchor=west] (kF3) at (1215,1138.3) {HD-GLABRA2};
\brk{draw=torange}{1210}{1150.7}{1172.7}
\node[cl,text=tdred] (kF4) at (1228.3,1159.3) {WD40};
\brk{draw=tteal}{1199.3}{1175}{1196}
\node[cl,text=tteal] (kF5) at (1219,1184) {LWD1};
\brk{draw=tgray}{1209.3}{1196.7}{1265}
\node[cl,text=tgray,anchor=west] (kF6) at (1213,1230) {R3-MYBs};
\brk{draw=tpurple}{1216.7}{1265}{1446}
\node[cl,text=tpurple,anchor=west] (kF7) at (1219.3,1355) {R2R3-MYBs};
% ---------------- scale bars
\foreach \a/\b/\yy [count=\n] in {106.7/130/1470,394/420/1470,680.7/707.3/1470,999.3/1021.7/1468.3}{
 \draw[sbar] (\a,\yy) -- (\b,\yy);
 \draw[sbar] (\a,\yy-3.5) -- (\a,\yy+3.5);
 \draw[sbar] (\b,\yy-3.5) -- (\b,\yy+3.5);
 \node[font=\fontsize{7.5}{8}\selectfont\bfseries,inner sep=0pt] (sbl\n) at ({(\a+\b)/2},\yy+8.5) {0.1};
}
% ---------------- caption
\node[capt] (cap1) at (25,1536) {\resizebox{1248pt}{\height}{\textbf{FIGURE 2} {\color{black!55}|} Chromosome distributions and phylogenetic trees of members involved in anthocyanin biosynthesis in Chinese cabbage and \textit{Arabidopsis}. \textbf{(A,B)}}};
\node[capt] (cap2) at (25,1561) {\resizebox{1248pt}{\height}{Chromosome distributions of ABGs in Chinese cabbage \textbf{(A)} and \textit{Arabidopsis} \textbf{(B)}; \textbf{(C–F)} the neighbor-joining phylogenetic trees for phenylpropanoid metabolic}};
\node[capt] (cap3) at (25,1586) {\resizebox{1248pt}{\height}{members \textbf{(C)}, early biosynthesis members \textbf{(D)}, late biosynthesis members \textbf{(E)}, and transcriptional factors \textbf{(F)}. Node numbers represent the bootstrap values from}};
\node[capt] (cap4) at (25,1611) {\resizebox{1246pt}{\height}{1000 trials containing each clade, and the lengths of the branch lines indicate the extent of divergence. The chromosomal information and protein sequences were}};
\node[capt] (cap5) at (25,1635.5) {\resizebox{286pt}{\height}{collected from the BRAD database.}};
\end{tikzpicture}
\end{document}
